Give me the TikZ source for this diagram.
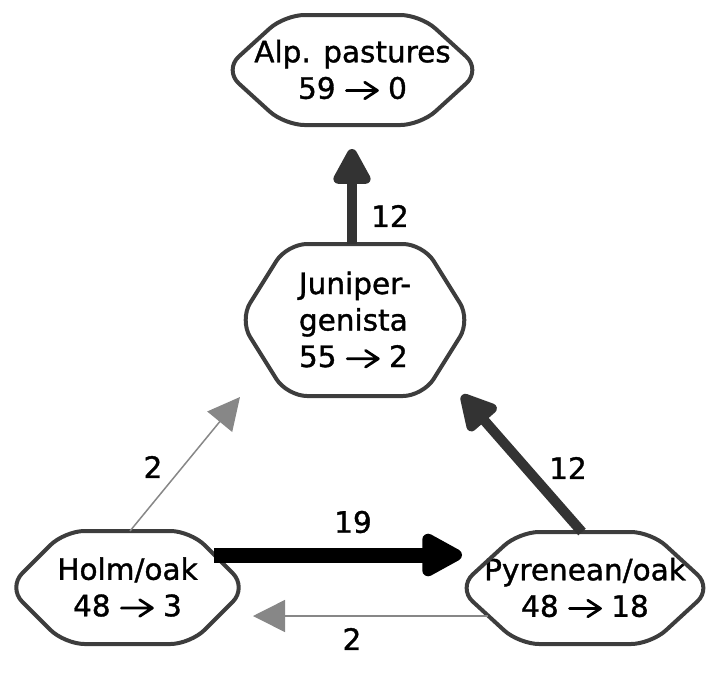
\documentclass[tikz,border=0pt]{standalone}
\usepackage{fontspec}
\setmainfont[FakeBold=1.2]{DejaVu Sans}
\usetikzlibrary{arrows.meta}
% the arrow between the two counts
\newcommand{\flowto}{\tikz[baseline=0pt]\draw[line width=2.8pt, line cap=round, line join=round]
    (0,0.28em) -- (1.05em,0.28em) (0.62em,0.56em) -- (1.05em,0.28em) -- (0.62em,0em);}
\begin{document}
\begin{tikzpicture}[x=1pt,y=-1pt,
    state/.style={inner sep=0pt, align=center, font=\fontsize{29.5}{36.5}\selectfont},
    hexline/.style={draw=black!76, line width=4pt, rounded corners=20pt},
    flowlabel/.style={inner sep=0pt, font=\fontsize{29.5}{36.5}\selectfont},
    heavy/.style={draw=black!80, line width=10pt, -{Triangle[length=41pt,width=41pt,round]}},
    heaviest/.style={draw=black, line width=15pt, -{Triangle[length=47pt,width=47pt,round]}},
    light/.style={draw=black!47, line width=1.5pt, -{Triangle[length=32pt,width=32pt]}}
  ]
    \useasboundingbox (0,0) rectangle (720,678);

    % states
    \node[state] (alp) at (352.5,70) {Alp. pastures\\59 \flowto{} 0};
    \node[state, align=left] (jun) at (355,320) {Juniper-\\genista\\55 \flowto{} 2};
    \node[state] (holm) at (127.5,587.5) {Holm/oak\\48 \flowto{} 3};
    \node[state] (pyr) at (585,588) {Pyrenean/oak\\48 \flowto{} 18};

    % hexagons: half flat width, slant, half height
    \foreach \n/\w/\d/\h in {alp/68/60.5/55, jun/68/47.5/76, holm/63/56.5/56.5, pyr/66/61/56}
        \draw[hexline] ([shift={(-\w,-\h)}]\n.center) -- ([shift={(\w,-\h)}]\n.center)
            -- ([shift={(\w+\d,0)}]\n.center) -- ([shift={(\w,\h)}]\n.center)
            -- ([shift={(-\w,\h)}]\n.center) -- ([shift={(-\w-\d,0)}]\n.center) -- cycle;

    % transitions
    \draw[heavy] ([shift={(-3,-76)}]jun.center) -- ([shift={(-0.5,79)}]alp.center);
    \draw[heavy] ([shift={(-3,-56)}]pyr.center) -- ([shift={(107,75)}]jun.center);
    \draw[light] ([shift={(2.5,-56.5)}]holm.center) -- ([shift={(-115,77)}]jun.center);
    \draw[heaviest] ([shift={(86.5,-32.5)}]holm.center) -- ([shift={(-123,-33)}]pyr.center);
    \draw[light] ([shift={(-97,28)}]pyr.center) -- ([shift={(125.5,28.5)}]holm.center);

    \node[flowlabel] (n12a) at (390,216) {12};
    \node[flowlabel] (n12b) at (568,468) {12};
    \node[flowlabel] (n2a) at (153,467) {2};
    \node[flowlabel] (n19) at (353,522) {19};
    \node[flowlabel] (n2b) at (352,639) {2};
\end{tikzpicture}
\end{document}
